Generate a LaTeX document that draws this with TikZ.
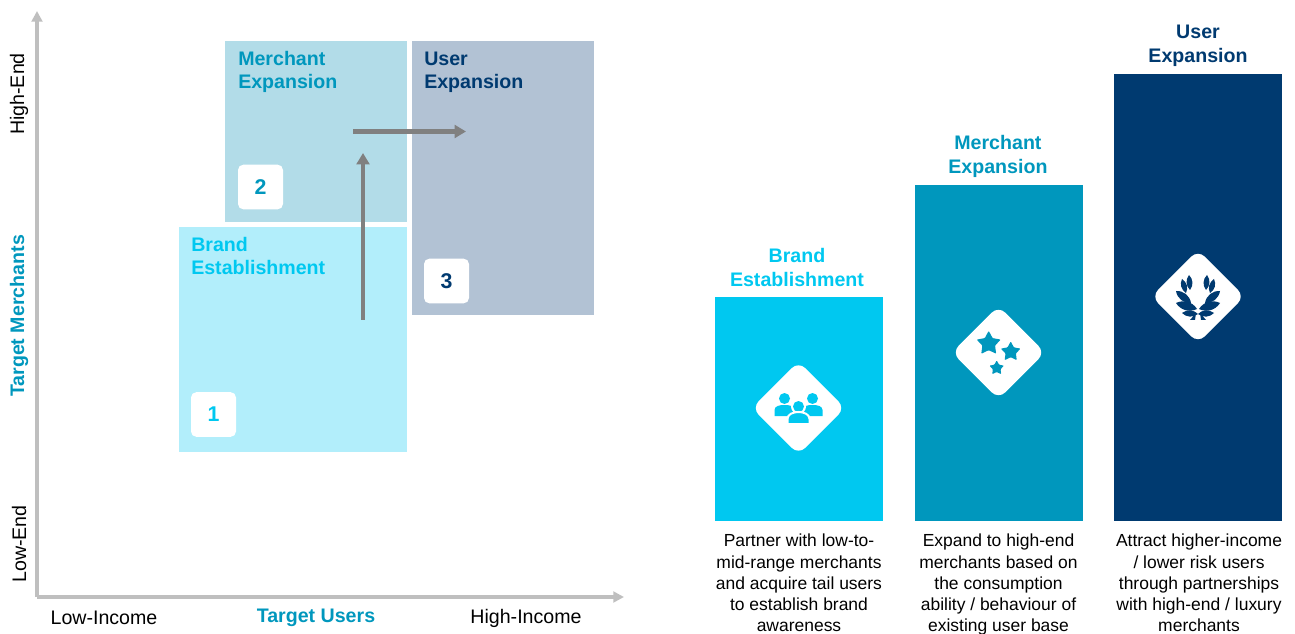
\documentclass[tikz,border=0pt]{standalone}
\usepackage{fontspec}
\setmainfont{Liberation Sans}
\usetikzlibrary{arrows.meta,positioning,shapes.geometric}
\definecolor{brandcol}{HTML}{00C8F0}
\definecolor{merchcol}{HTML}{0097BD}
\definecolor{usercol}{HTML}{003A70}
\definecolor{brandlight}{HTML}{B2EEFB}
\definecolor{merchlight}{HTML}{B2DCE8}
\definecolor{userlight}{HTML}{B2C2D4}
\newcommand{\laurelleaf}[2]{\fill (#1) to[bend left=42] (#2) to[bend left=42] (#1);}
\begin{document}
\begin{tikzpicture}[
	x=0.75pt,
	y=-0.75pt,
	axis/.style={
		draw=black!25,
		line width=2.4pt,
		-{Triangle[length=8pt,width=8pt]}
	},
	move/.style={
		draw=black!50,
		line width=3.3pt,
		-{Triangle[length=8.5pt,width=9.5pt]}
	},
	region/.style={
		rectangle,
		inner sep=0pt
	},
	bar/.style={
		rectangle,
		inner sep=0pt,
		minimum width=126pt
	},
	numbox/.style={
		rectangle,
		rounded corners=4pt,
		fill=white,
		inner sep=0pt,
		minimum width=33.75pt,
		minimum height=33.5pt,
		font=\fontsize{16}{18}\selectfont\bfseries
	},
	badge/.style={
		diamond,
		fill=white,
		rounded corners=7pt,
		inner sep=0pt,
		minimum width=70pt,
		minimum height=70pt
	},
	star5/.style={
		star,
		star points=5,
		star point ratio=1.9,
		rounded corners=0.6pt,
		fill=merchcol,
		inner sep=0pt
	},
	heading/.style={
		align=left,
		anchor=north west,
		inner sep=0pt,
		font=\fontsize{14.7}{17.3}\selectfont\bfseries
	},
	title/.style={
		align=center,
		inner sep=0pt,
		font=\fontsize{14.7}{17.9}\selectfont\bfseries
	},
	axislabel/.style={
		inner sep=0pt,
		font=\fontsize{14.7}{17.3}\selectfont
	},
	body/.style={
		align=center,
		anchor=north,
		inner sep=0pt,
		font=\fontsize{13.1}{15.9}\selectfont
	}
]
\useasboundingbox (0,0) rectangle (1295,634);

% left matrix
\node[region,fill=brandlight,minimum width=171pt,minimum height=168.75pt] (brandbox) at (293,339.5) {};
\node[region,fill=merchlight,minimum width=136.5pt,minimum height=135.75pt] (merchbox) at (316,131.5) {};
\node[region,fill=userlight,minimum width=136.5pt,minimum height=205.5pt] (userbox) at (503,178) {};

\node[heading,text=brandcol] (brandhead) at (191,237) {Brand\\Establishment};
\node[heading,text=merchcol] (merchhead) at (238,51) {Merchant\\Expansion};
\node[heading,text=usercol] (userhead) at (424,52) {User\\Expansion};

\node[numbox,text=brandcol] (num1) at (213.5,414.5) {1};
\node[numbox,text=merchcol] (num2) at (260.5,187) {2};
\node[numbox,text=usercol] (num3) at (446.5,281) {3};

\coordinate (origin) at (37,597);
\coordinate (ytip) at (37,11);
\coordinate (xtip) at (624,597);
\draw[axis] (origin) -- (ytip);
\draw[axis] (origin) -- (xtip);

\coordinate (upstart) at (363,320);
\coordinate (upend) at (363,153);
\coordinate (rightstart) at (353,131.5);
\coordinate (rightend) at (466,131.5);
\draw[move] (upstart) -- (upend);
\draw[move] (rightstart) -- (rightend);

\node[axislabel,rotate=90] (highend) at (19,94) {High-End};
\node[axislabel,rotate=90] (lowend) at (19,544) {Low-End};
\node[axislabel,rotate=90,text=merchcol,font=\fontsize{14.7}{17.3}\selectfont\bfseries] (targetm) at (19,316) {Target Merchants};
\node[axislabel] (lowinc) at (104,618) {Low-Income};
\node[axislabel] (highinc) at (526,618) {High-Income};
\node[axislabel,text=merchcol,font=\fontsize{14.7}{17.3}\selectfont\bfseries] (targetu) at (316,618) {Target Users};

% right bars
\node[bar,fill=brandcol,minimum height=168pt] (barbrand) at (799,409) {};
\node[bar,fill=merchcol,minimum height=252pt] (barmerch) at (999,353) {};
\node[bar,fill=usercol,minimum height=335.25pt] (baruser) at (1198,297.5) {};

\node[title,text=brandcol,above=7.5pt of barbrand,xshift=-1.5pt] (titlebrand) {Brand\\Establishment};
\node[title,text=merchcol,above=5.5pt of barmerch,xshift=-0.8pt] (titlemerch) {Merchant\\Expansion};
\node[title,text=usercol,above=5pt of baruser] (titleuser) {User\\Expansion};

\node[body] (textbrand) at (799,534) {Partner with low-to-\\mid-range merchants\\and acquire tail users\\to establish brand\\awareness};
\node[body] (textmerch) at (998.5,534) {Expand to high-end\\merchants based on\\the consumption\\ability / behaviour of\\existing user base};
\node[body] (textuser) at (1199,534) {Attract higher-income\\/ lower risk users\\through partnerships\\with high-end / luxury\\merchants};

\node[badge] (badge1) at (798.5,408) {};
\node[badge] (badge2) at (998.5,352.5) {};
\node[badge] (badge3) at (1198,296.5) {};

% people
\begin{scope}[shift={(798.5,408)},fill=brandcol]
	\foreach \side in {-14,14} {
		\fill (\side,-9.5) circle (5.5);
		\fill[shift={(\side,-3)}] (-10,11) -- (-10,5) .. controls (-10,1) and (-5,0) .. (0,0) .. controls (5,0) and (10,1) .. (10,5) -- (10,11) -- cycle;
	}
	\fill[white] (0,-1.5) circle (7.5);
	\fill (0,-1.5) circle (5.5);
	\fill[shift={(0,4)},draw=white,line width=1.5pt] (-11,12) -- (-11,7) .. controls (-11,2) and (-5,0) .. (0,0) .. controls (5,0) and (11,2) .. (11,7) -- (11,12) -- cycle;
\end{scope}

% stars
\node[star5,minimum size=19pt] (star1) at (988.7,343.5) {};
\node[star5,minimum size=15.5pt] (star2) at (1010.7,351.8) {};
\node[star5,minimum size=11.5pt] (star3) at (996.7,368) {};

% laurel
\begin{scope}[shift={(1198,296)},fill=usercol]
	\foreach \flip in {1,-1} {
		\begin{scope}[xscale=\flip]
			\laurelleaf{-8,-6}{-9,-21}
			\laurelleaf{-12,-3}{-16,-17}
			\laurelleaf{-7,7}{-22,-5}
			\laurelleaf{-1,13}{-22,7}
			\laurelleaf{0,18}{-16,17}
			\fill (-2,17) -- (-8,24) -- (-3,24) -- cycle;
		\end{scope}
	}
\end{scope}
\end{tikzpicture}
\end{document}
